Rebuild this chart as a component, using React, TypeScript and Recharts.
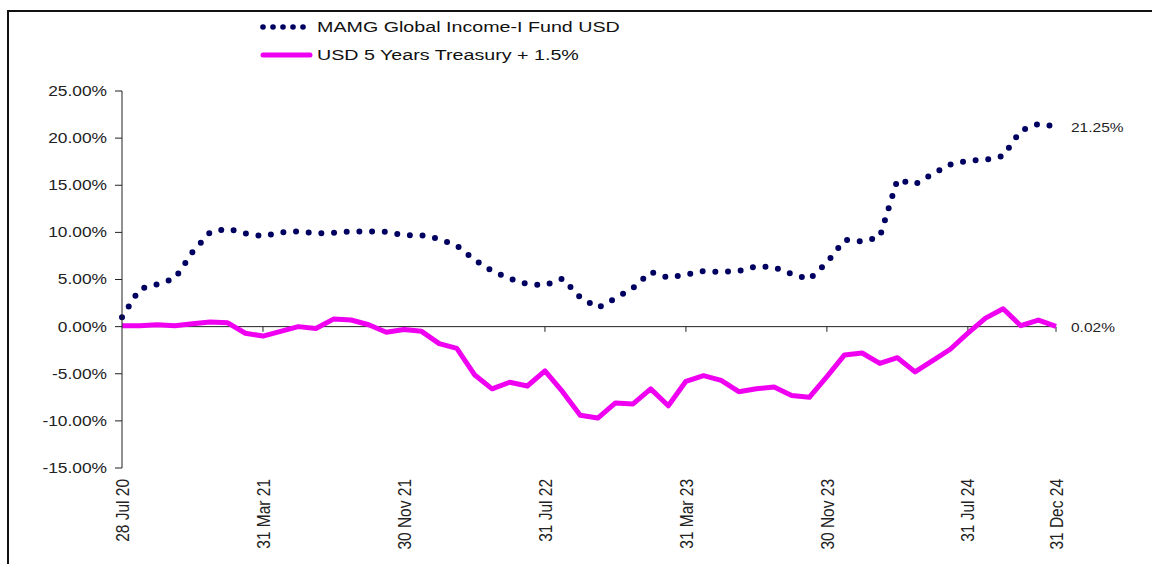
import React from "react";
import { LineChart, Line, XAxis, YAxis, ReferenceLine } from "recharts";

const dates = [
  "28 Jul 20", "31 Aug 20", "30 Sep 20", "31 Oct 20", "30 Nov 20", "31 Dec 20",
  "31 Jan 21", "28 Feb 21", "31 Mar 21", "30 Apr 21", "31 May 21", "30 Jun 21",
  "31 Jul 21", "31 Aug 21", "30 Sep 21", "31 Oct 21", "30 Nov 21", "31 Dec 21",
  "31 Jan 22", "28 Feb 22", "31 Mar 22", "30 Apr 22", "31 May 22", "30 Jun 22",
  "31 Jul 22", "31 Aug 22", "30 Sep 22", "31 Oct 22", "30 Nov 22", "31 Dec 22",
  "31 Jan 23", "28 Feb 23", "31 Mar 23", "30 Apr 23", "31 May 23", "30 Jun 23",
  "31 Jul 23", "31 Aug 23", "30 Sep 23", "31 Oct 23", "30 Nov 23", "31 Dec 23",
  "31 Jan 24", "29 Feb 24", "31 Mar 24", "30 Apr 24", "31 May 24", "30 Jun 24",
  "31 Jul 24", "31 Aug 24", "30 Sep 24", "31 Oct 24", "30 Nov 24", "31 Dec 24",
];

// cumulative return, %
const fund = [
  1.0, 4.0, 4.5, 5.1, 7.9, 10.0, 10.4, 9.9, 9.6, 10.0, 10.1, 9.9,
  9.95, 10.1, 10.1, 10.05, 9.7, 9.7, 9.3, 8.6, 7.1, 5.9, 5.1, 4.5,
  4.4, 5.1, 3.1, 2.0, 3.0, 4.1, 5.8, 5.2, 5.5, 5.9, 5.8, 5.9,
  6.4, 6.3, 5.6, 5.0, 6.8, 9.2, 9.05, 9.5, 15.6, 15.1, 16.2, 17.2,
  17.6, 17.7, 18.1, 20.8, 21.5, 21.25,
];

const bench = [
  0.1, 0.1, 0.2, 0.1, 0.3, 0.5, 0.4, -0.7, -1.0, -0.5, 0.0, -0.2,
  0.8, 0.7, 0.2, -0.6, -0.3, -0.5, -1.8, -2.3, -5.1, -6.6, -5.9, -6.3,
  -4.7, -6.9, -9.4, -9.7, -8.1, -8.2, -6.6, -8.4, -5.8, -5.2, -5.7, -6.9,
  -6.6, -6.4, -7.3, -7.5, -5.3, -3.0, -2.8, -3.9, -3.3, -4.8, -3.6, -2.4,
  -0.7, 0.9, 1.9, 0.1, 0.7, 0.02,
];

const tickDates = ["28 Jul 20", "31 Mar 21", "30 Nov 21", "31 Jul 22", "31 Mar 23", "30 Nov 23", "31 Jul 24", "31 Dec 24"];
const yTicks = [-15, -10, -5, 0, 5, 10, 15, 20, 25];

const seriesNames = ["MAMG Global Income-I Fund USD", "USD 5 Years Treasury + 1.5%"];

const data = dates.map((d, i) => ({ i, date: d, fund: fund[i], bench: bench[i] }));
const tickIdx = tickDates.map((d) => dates.indexOf(d));

const FONT = "'Liberation Sans', Arial, sans-serif";
const NAVY = "#000060";
const MAGENTA = "#f000f0";

const XTick = ({ x, y, payload }: any) => (
  <g transform={`translate(${x},${y + 11})`}>
    <text
      transform="rotate(-90) scale(1,1.24)"
      textAnchor="end"
      dominantBaseline="central"
      fontSize={15.5}
      fontFamily={FONT}
      fill="#222"
    >
      {dates[payload.value]}
    </text>
  </g>
);

const YTick = ({ x, y, payload }: any) => (
  <text
    transform={`translate(${x},${y}) scale(1.24,1)`}
    textAnchor="end"
    dominantBaseline="central"
    fontSize={14}
    fontFamily={FONT}
    fill="#222"
  >
    {payload.value.toFixed(2) + "%"}
  </text>
);

const endLabel = (key: "fund" | "bench") => (props: any) => {
  const { cx, cy, index } = props;
  if (index !== data.length - 1) return <g key={`${key}-${index}`} />;
  return (
    <text
      key={`${key}-${index}`}
      transform={`translate(${cx + 15},${cy + 1}) scale(1.24,1)`}
      dominantBaseline="central"
      fontSize={12.5}
      fontFamily={FONT}
      fill="#222"
    >
      {data[index][key].toFixed(2) + "%"}
    </text>
  );
};

function LegendBox() {
  return (
    <svg width={700} height={80} style={{ position: "absolute", left: 0, top: 0 }}>
      {[0, 1, 2, 3, 4].map((k) => (
        <circle key={k} cx={263 + k * 10} cy={27} r={2.8} fill={NAVY} />
      ))}
      <text x={317} y={27} dominantBaseline="central" fontSize={15.5} fontFamily={FONT} fill="#111"
        transform="translate(317,0) scale(1.27,1) translate(-317,0)">
        {seriesNames[0]}
      </text>
      <line x1={263} y1={55} x2={310} y2={55} stroke={MAGENTA} strokeWidth={5} strokeLinecap="round" />
      <text x={317} y={55} dominantBaseline="central" fontSize={15.5} fontFamily={FONT} fill="#111"
        transform="translate(317,0) scale(1.27,1) translate(-317,0)">
        {seriesNames[1]}
      </text>
    </svg>
  );
}

export default function App() {
  return (
    <div style={{ position: "relative", width: 1152, height: 564, background: "#fff", overflow: "hidden" }}>
      <style>{`body{margin:0;overflow:hidden}`}</style>
      <div
        style={{
          position: "absolute",
          left: 7,
          top: 10,
          width: 1160,
          height: 570,
          borderLeft: "2px solid #111",
          borderTop: "2px solid #111",
        }}
      />
      <LegendBox />
      <div style={{ position: "absolute", left: 0, top: 0 }}>
        <LineChart width={1152} height={564} data={data} margin={{ top: 91, right: 96, bottom: 0, left: 0 }}>
          <XAxis
            dataKey="i"
            type="number"
            domain={[0, data.length - 1]}
            ticks={tickIdx}
            tick={<XTick />}
            tickLine={false}
            axisLine={false}
            tickSize={0}
            tickMargin={0}
            height={96}
            interval={0}
          />
          <YAxis
            domain={[-15, 25]}
            ticks={yTicks}
            tick={<YTick />}
            width={122}
            tickSize={7}
            tickMargin={8}
            interval={0}
            stroke="#222"
            tickLine={{ stroke: "#222" }}
            axisLine={{ stroke: "#222" }}
          />
          <ReferenceLine y={0} stroke="#222" strokeWidth={1} />
          {tickIdx.slice(1).map((t) => (
            <ReferenceLine
              key={t}
              segment={[{ x: t, y: 0 }, { x: t, y: -0.55 }]}
              stroke="#222"
              strokeWidth={1}
            />
          ))}
          <Line
            type="linear"
            dataKey="bench"
            stroke={MAGENTA}
            strokeWidth={5}
            strokeLinejoin="round"
            dot={endLabel("bench")}
            activeDot={false}
            isAnimationActive={false}
          />
          <Line
            type="linear"
            dataKey="fund"
            stroke={NAVY}
            strokeWidth={6}
            strokeDasharray="0 12.7"
            strokeLinecap="round"
            dot={endLabel("fund")}
            activeDot={false}
            isAnimationActive={false}
          />
        </LineChart>
      </div>
    </div>
  );
}
